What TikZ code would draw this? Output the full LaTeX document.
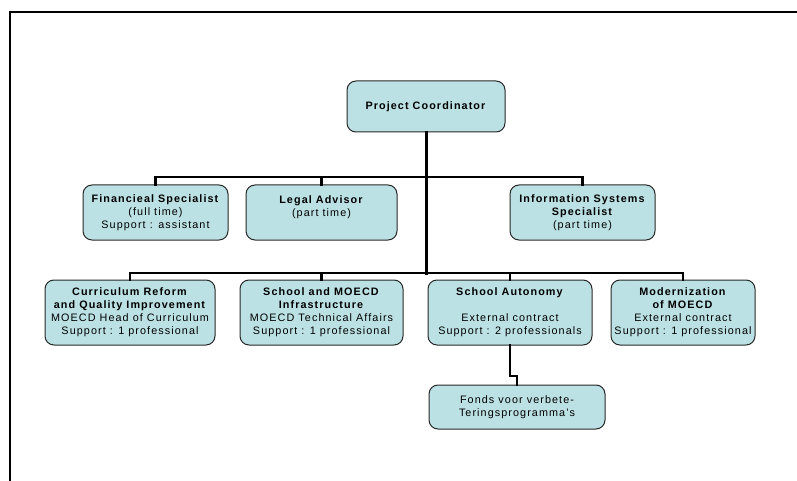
\documentclass[tikz,border=0pt]{standalone}
\usepackage{fontspec}
\setmainfont{Liberation Sans}[LetterSpace=10]
\definecolor{boxfill}{RGB}{188,225,228}
\definecolor{boxline}{RGB}{40,40,40}
\tikzset{
  orgbox/.style={draw=boxline, line width=1pt, fill=boxfill, rounded corners=9pt,
    inner sep=0pt, align=center, font=\fontsize{10.8}{13}\selectfont},
  conn/.style={line width=2.6pt, line cap=rect},
  frameline/.style={line width=2pt}
}
\begin{document}
\begin{tikzpicture}[x=1pt,y=-1pt]
\useasboundingbox (0,0) rectangle (797,481);
% frame
\draw[frameline] (10,481) -- (10,12) -- (797,12);
% nodes
\node[orgbox, minimum width=158pt, minimum height=51pt] (pc) at (426,106.5) {\textbf{Project  Coordinator}};
\node[orgbox, minimum width=145pt, minimum height=55pt] (fin) at (155.5,212.5) {\textbf{Financieal Specialist}\\(full time)\\Support : assistant};
\node[orgbox, minimum width=151pt, minimum height=55pt] (legal) at (321.5,212.5) {\textbf{Legal Advisor}\\(part time)\\~};
\node[orgbox, minimum width=145pt, minimum height=55pt] (info) at (582.5,212.5) {\textbf{Information Systems}\\\textbf{Specialist}\\(part time)};
\node[orgbox, minimum width=170pt, minimum height=65pt] (curr) at (130,312.5) {\textbf{Curriculum Reform}\\\textbf{and Quality Improvement}\\MOECD Head of Curriculum\\Support : 1 professional};
\node[orgbox, minimum width=163pt, minimum height=65pt] (school) at (321.5,312.5) {\textbf{School and MOECD}\\\textbf{Infrastructure}\\MOECD Technical Affairs\\Support : 1 professional};
\node[orgbox, minimum width=164pt, minimum height=65pt] (auto) at (510,312.5) {\textbf{School Autonomy}\\~\\External contract\\Support : 2 professionals};
\node[orgbox, minimum width=144pt, minimum height=65pt] (modern) at (683,312.5) {\textbf{Modernization}\\\textbf{of MOECD}\\External contract\\Support : 1 professional};
\node[orgbox, minimum width=176pt, minimum height=44pt] (fonds) at (517,407) {Fonds voor verbete-\\Teringsprogramma's};
% junctions
\coordinate (j1) at (426,177);
\coordinate (j2) at (426,273);
\coordinate (k) at (510,376);
% connectors
\draw[conn, line width=3pt] (pc.south) -- (j2);
\draw[conn] (fin.north) |- (j1) -| (info.north);
\draw[conn] (legal.north) -- (legal.north |- j1);
\draw[conn] (curr.north) |- (j2) -| (modern.north);
\draw[conn] (school.north) -- (school.north |- j2);
\draw[conn] (auto.north) -- (auto.north |- j2);
\draw[conn] (auto.south) -- (k) -| (fonds.north);
\end{tikzpicture}
\end{document}
